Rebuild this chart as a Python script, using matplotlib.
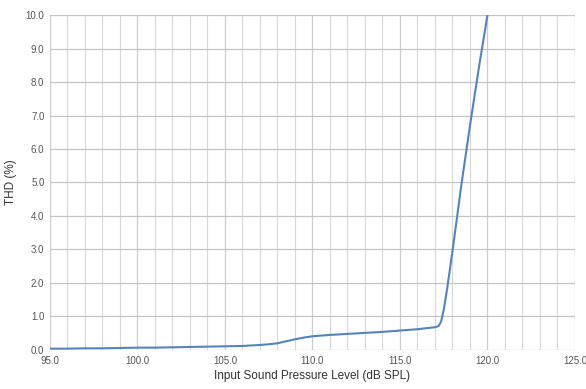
import numpy as np
import matplotlib.pyplot as plt
from matplotlib.ticker import MultipleLocator, FormatStrFormatter

# Dati: livello di pressione sonora in ingresso vs THD
spl_db = [95.0, 96.0, 97.0, 98.0, 99.0, 100.0, 101.0, 102.0, 103.0, 104.0, 105.0,
          106.0, 107.0, 107.5, 108.0, 108.5, 109.0, 109.5, 110.0, 110.5, 111.0,
          112.0, 113.0, 114.0, 115.0, 116.0, 116.5, 117.0, 117.2, 117.35, 117.5,
          117.7, 118.0, 118.5, 119.0, 119.5, 120.0]
thd_pct = [0.04, 0.04, 0.05, 0.05, 0.06, 0.07, 0.07, 0.08, 0.09, 0.10, 0.11,
           0.12, 0.15, 0.17, 0.20, 0.26, 0.32, 0.37, 0.41, 0.43, 0.45,
           0.48, 0.51, 0.54, 0.58, 0.62, 0.65, 0.68, 0.71, 0.85, 1.2,
           1.85, 2.95, 4.9, 6.7, 8.4, 10.0]

fig = plt.figure(figsize=(5.86, 3.89), dpi=100)
ax = fig.add_axes([0.0853, 0.1003, 0.8959, 0.8611])

ax.plot(spl_db, thd_pct, color='#5584bb', linewidth=1.5, zorder=3)

ax.set_xlim(95, 125)
ax.set_ylim(0, 10)
ax.xaxis.set_major_locator(MultipleLocator(5))
ax.xaxis.set_minor_locator(MultipleLocator(1))
ax.yaxis.set_major_locator(MultipleLocator(1))
ax.xaxis.set_major_formatter(FormatStrFormatter('%.1f'))
ax.yaxis.set_major_formatter(FormatStrFormatter('%.1f'))

# Griglia stile Excel
ax.grid(which='major', axis='y', color='#c4c4c4', linewidth=0.9)
ax.grid(which='major', axis='x', color='#cdcdcd', linewidth=0.9)
ax.grid(which='minor', axis='x', color='#d6d6d6', linewidth=0.8)
for s in ax.spines.values():
    s.set_visible(False)
ax.tick_params(which='both', length=0)
ax.tick_params(axis='both', labelsize=7, colors='#555555', pad=4)

ax.set_xlabel('Input Sound Pressure Level (dB SPL)', fontsize=8.5, color='#333333', labelpad=3)
ax.set_ylabel('THD (%)', fontsize=8.5, color='#333333', labelpad=6)

for lab in ax.get_xticklabels() + ax.get_yticklabels():
    lab.set_family('Liberation Sans')
ax.xaxis.label.set_family('Liberation Sans')
ax.yaxis.label.set_family('Liberation Sans')

fig.savefig('out.png', dpi=100)
